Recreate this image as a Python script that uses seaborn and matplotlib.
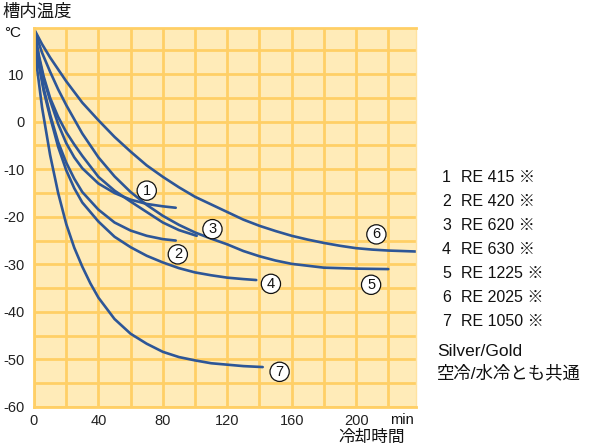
import matplotlib
matplotlib.use("Agg")
import matplotlib.pyplot as plt
import seaborn as sns
import pandas as pd
import numpy as np

# ---- data ----
t1 = [0, 3, 6, 10, 15, 20, 25, 30, 40, 50, 60, 70, 80, 88]
T1 = [19.5, 13.5, 9, 4.5, -0.5, -4.5, -7.5, -9.8, -13, -15, -16.4, -17.3, -17.8, -18.1]

t2 = [0, 3, 6, 10, 15, 20, 25, 30, 40, 50, 60, 70, 80, 88]
T2 = [19.5, 12.5, 7, 1.5, -4.3, -8.6, -12, -14.8, -18.5, -21.2, -22.9, -24.0, -24.7, -25.0]

t3 = [0, 3, 6, 10, 15, 20, 25, 30, 40, 50, 60, 70, 80, 90, 101]
T3 = [19.5, 14, 9.5, 5, 1, -2.2, -4.8, -7.2, -11.6, -14.5, -16.8, -19, -21.2, -22.8, -24.0]

t4 = [0, 3, 6, 10, 15, 20, 25, 30, 40, 50, 60, 70, 80, 90, 100, 110, 120, 130, 138]
T4 = [19.5, 12, 6.5, 1, -5.3, -10.2, -14, -17, -21, -24.2, -26.4, -28.2, -29.6, -30.8, -31.7, -32.3, -32.8, -33.1, -33.3]

t5 = [0, 5, 10, 15, 20, 30, 40, 50, 60, 70, 80, 90, 100, 110, 120, 130, 140, 150, 160, 170, 180, 200, 220]
T5 = [19.5, 14.5, 10.5, 6.8, 3.5, -2.5, -7.5, -11.5, -14.8, -17.5, -19.8, -21.7, -23.3, -24.6, -25.8, -27.2, -28.3, -29.2, -29.9, -30.3, -30.7, -30.9, -31.0]

t6 = [0, 5, 10, 20, 30, 40, 50, 60, 70, 80, 90, 100, 110, 120, 130, 140, 150, 160, 170, 180, 190, 200, 210, 220, 237]
T6 = [19.5, 16.3, 13.5, 8.5, 4, 0.3, -3.2, -6.3, -9.2, -11.6, -13.8, -15.8, -17.4, -19, -20.6, -21.9, -23, -24, -24.8, -25.5, -26.1, -26.6, -26.9, -27.1, -27.3]

t7 = [0, 2, 5, 10, 15, 20, 25, 30, 35, 40, 50, 60, 70, 80, 90, 100, 110, 120, 130, 142]
T7 = [19.5, 11, 3, -7, -15, -21.5, -26.5, -30.5, -34, -37, -41.5, -44.6, -46.7, -48.4, -49.5, -50.2, -50.8, -51.1, -51.4, -51.6]

curve_ids = ["1", "2", "3", "4", "5", "6", "7"]
label_t = [70.0, 89.3, 110.8, 147.1, 209.3, 212.6, 152.5]
label_T = [-14.5, -27.9, -22.6, -34.1, -34.3, -23.7, -52.6]

models = ["RE 415 ※", "RE 420 ※", "RE 620 ※", "RE 630 ※", "RE 1225 ※", "RE 2025 ※", "RE 1050 ※"]
x_ticks = [0, 40, 80, 120, 160, 200]
y_ticks = [-60, -50, -40, -30, -20, -10, 0, 10]

series_t = [t1, t2, t3, t4, t5, t6, t7]
series_T = [T1, T2, T3, T4, T5, T6, T7]
df = pd.concat([pd.DataFrame({"t": t, "T": T, "curve": c})
                for t, T, c in zip(series_t, series_T, curve_ids)], ignore_index=True)

# ---- styling ----
sns.set_theme(style="white")
plt.rcParams['font.family'] = ['Liberation Sans', 'Noto Sans CJK JP', 'DejaVu Sans']
plt.rcParams['axes.unicode_minus'] = False

BG = "#FFEBB8"
GRID = "#FFCF66"
LINE = "#2D5697"

W, H = 590, 447
fig = plt.figure(figsize=(W / 100, H / 100), dpi=100)
fig.patch.set_facecolor("white")

def fx(x):
    return x / W

def fy(y):
    return 1 - y / H

left, right, top, bottom = 34, 415.7, 28, 407
ax = fig.add_axes([fx(left), fy(bottom), (right - left) / W, (bottom - top) / H])
ax.set_facecolor(BG)

sns.lineplot(data=df, x="t", y="T", units="curve", estimator=None, sort=False,
             color=LINE, linewidth=1.9, ax=ax, legend=False)

ax.set_xlim(0, 237)
ax.set_ylim(-60, 19.7)
ax.set_xticks(x_ticks)
ax.set_yticks(y_ticks)
ax.set_xticks(np.arange(0, 237, 20), minor=True)
ax.set_yticks(np.arange(-60, 19, 5), minor=True)
ax.grid(which="both", color=GRID, linewidth=2.0)
ax.set_axisbelow(True)
ax.tick_params(which="both", length=0)
ax.tick_params(axis="y", pad=7, labelsize=10.5, colors="#222222")
ax.tick_params(axis="x", pad=5, labelsize=10.5, colors="#222222")
ax.set_xlabel("")
ax.set_ylabel("")
for side in ["left", "bottom", "top"]:
    ax.spines[side].set_color(GRID)
    ax.spines[side].set_linewidth(2.0)
ax.spines["right"].set_color("#FFE2A0")
ax.spines["right"].set_linewidth(1.0)

for c, lt, lT in zip(curve_ids, label_t, label_T):
    ax.text(lt, lT, c, ha="center", va="center", fontsize=10.5, color="#111111",
            bbox=dict(boxstyle="circle,pad=0.18", fc="white", ec="#111111", lw=0.9),
            zorder=5)

# ---- texts ----
fig.text(fx(2), fy(12), "槽内温度", fontsize=12.5, ha="left", va="center", color="#111111")
fig.text(fx(4), fy(33), "°C", fontsize=11, ha="left", va="center", color="#111111")
fig.text(fx(402), fy(420), "min", fontsize=10.5, ha="center", va="center", color="#111111")
fig.text(fx(405), fy(437), "冷却時間", fontsize=12, ha="right", va="center", color="#111111")

row_y = [177.5, 201.5, 225.5, 249.5, 273, 297, 321]
for c, m, yy in zip(curve_ids, models, row_y):
    fig.text(fx(442), fy(yy), c, fontsize=11.5, ha="left", va="center", color="#111111")
    fig.text(fx(461), fy(yy), m, fontsize=11.5, ha="left", va="center", color="#111111")
fig.text(fx(437), fy(351), "Silver/Gold", fontsize=12.5, ha="left", va="center", color="#111111")
fig.text(fx(437), fy(373), "空冷/水冷とも共通", fontsize=12.5, ha="left", va="center", color="#111111")

fig.savefig("out.png", dpi=100, facecolor="white")
